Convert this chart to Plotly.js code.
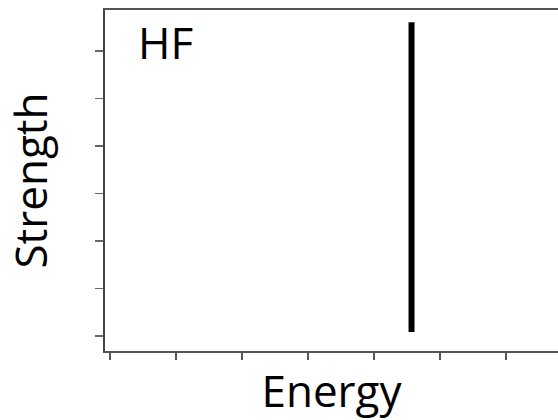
<!DOCTYPE html>
<html>
<head>
<meta charset="utf-8">
<script src="https://cdn.plot.ly/plotly-3.0.1.min.js"></script>
<style>html,body{margin:0;padding:0;background:#fff;}#chart{width:558px;height:420px;}</style>
</head>
<body>
<div id="chart"></div>
<script>
// Stick spectrum (single HF transition)
const energy = [4.57, 4.57];
const strength = [0.08, 6.6];
const xTicks = [0, 1, 2, 3, 4, 5, 6];
const yTicks = [0, 1, 2, 3, 4, 5, 6];
const panelLabel = 'HF';

const font = '"Open Sans", "Liberation Sans", sans-serif';

Plotly.newPlot('chart', [{
  x: energy,
  y: strength,
  type: 'scatter',
  mode: 'lines',
  line: {color: '#000', width: 6},
  hoverinfo: 'skip',
  showlegend: false
}], {
  width: 558,
  height: 420,
  margin: {l: 105, r: 0, t: 10, b: 69},
  paper_bgcolor: '#fff',
  plot_bgcolor: '#fff',
  font: {family: font, color: '#000'},
  xaxis: {
    range: [-0.076, 6.79],
    tickvals: xTicks,
    showticklabels: false,
    ticks: 'outside',
    ticklen: 7,
    tickwidth: 1.5,
    tickcolor: '#555',
    showgrid: false,
    zeroline: false,
    showline: true,
    linecolor: '#555',
    linewidth: 2,
    mirror: true,
    title: {text: 'Energy', font: {size: 44, family: font, color: '#000'}, standoff: 17}
  },
  yaxis: {
    range: [-0.32, 6.86],
    tickvals: yTicks,
    showticklabels: false,
    ticks: 'outside',
    ticklen: 8,
    tickwidth: 1.5,
    tickcolor: '#666',
    showgrid: false,
    zeroline: false,
    showline: true,
    linecolor: '#444',
    linewidth: 2,
    title: {text: 'Strength', font: {size: 44, family: font, color: '#000'}, standoff: 38}
  },
  annotations: [{
    text: panelLabel,
    xref: 'paper', yref: 'paper',
    x: 0.068, y: 1.0,
    xanchor: 'left', yanchor: 'top',
    showarrow: false,
    font: {size: 44, family: font, color: '#000'}
  }]
}, {displayModeBar: false, staticPlot: true});
</script>
</body>
</html>
